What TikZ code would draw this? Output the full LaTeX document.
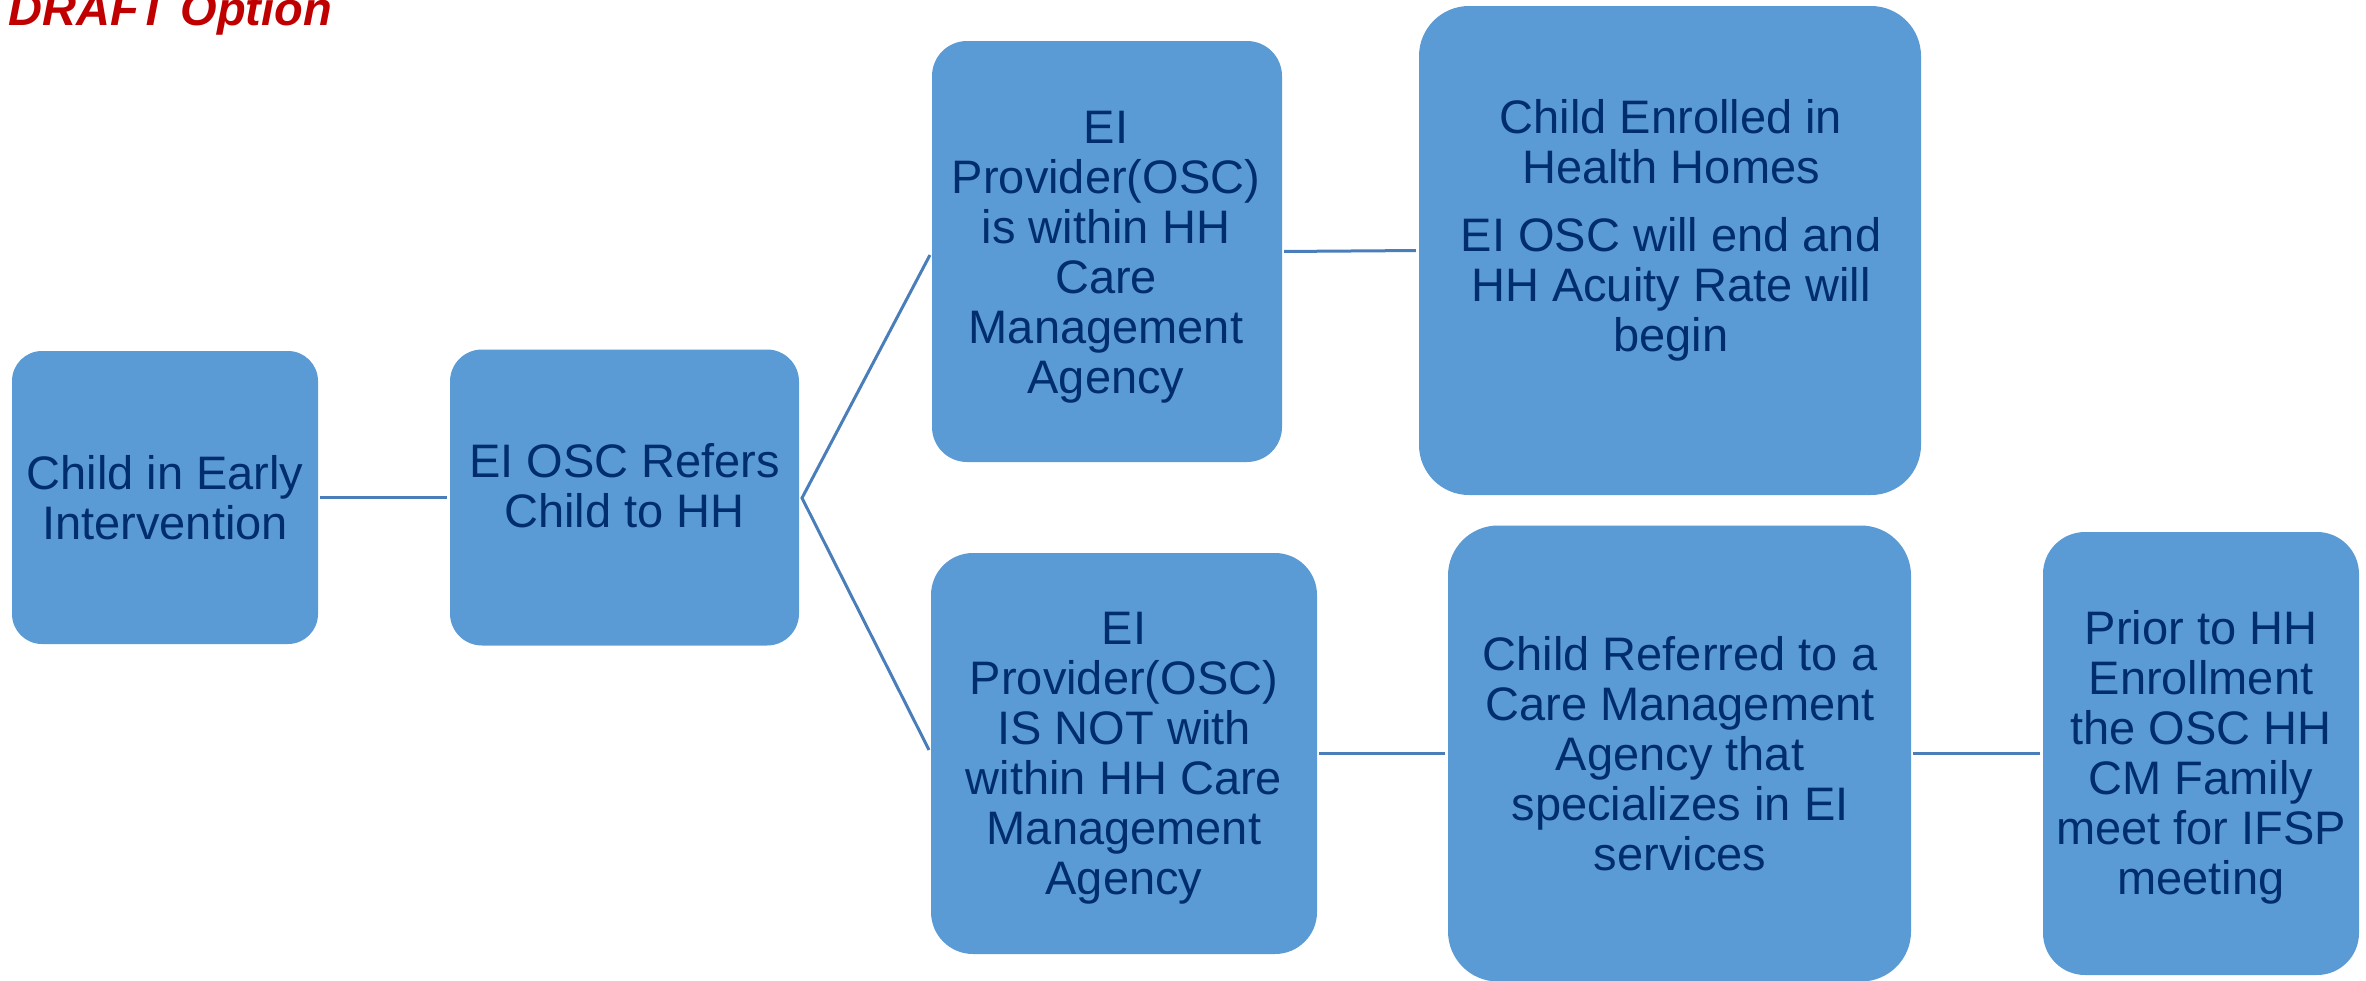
\documentclass[tikz,border=0pt]{standalone}
\usepackage{fontspec}
\setmainfont{Liberation Sans}
\definecolor{boxfill}{HTML}{5B9BD5}
\definecolor{boxtext}{HTML}{002D6E}
\definecolor{linkcol}{HTML}{4A7EBB}
\definecolor{draftred}{HTML}{C00000}
\begin{document}
\begin{tikzpicture}[x=1pt,y=-1pt,
  box/.style={fill=boxfill,draw=none,inner sep=0pt,minimum width=#1},
  boxtxt/.style={text=boxtext,align=center,inner sep=0pt,font=\fontsize{47}{50}\selectfont},
  link/.style={draw=linkcol,line width=3pt,shorten <=2pt,shorten >=3pt}]
\useasboundingbox (0,0) rectangle (2366,980);
% title
\node[anchor=base west,inner sep=0pt,text=draftred,font=\fontsize{47}{50}\selectfont\bfseries\itshape] (title) at (8,25) {DRAFT Option};
% boxes
\node[box=306pt,minimum height=293pt,rounded corners=30pt] (A) at (165,497.5) {};
\node[box=349pt,minimum height=296pt,rounded corners=32pt] (B) at (624.5,497.5) {};
\node[box=350pt,minimum height=421pt,rounded corners=35pt] (C) at (1107,251.5) {};
\node[box=502pt,minimum height=489pt,rounded corners=50pt] (D) at (1670,250.5) {};
\node[box=386pt,minimum height=401pt,rounded corners=42pt] (E) at (1124,753.5) {};
\node[box=463pt,minimum height=456pt,rounded corners=50pt] (F) at (1679.5,753.5) {};
\node[box=316pt,minimum height=443pt,rounded corners=42pt] (G) at (2201,753.5) {};
% texts
\node[boxtxt] (At) at (165,504) {\strut Child in Early\\\strut Intervention};
\node[boxtxt] (Bt) at (624.5,492) {\strut EI OSC Refers\\\strut Child to HH};
\node[boxtxt] (Ct) at (1106,258.5) {\strut EI\\\strut Provider(OSC)\\\strut is within HH\\\strut Care\\\strut Management\\\strut Agency};
\node[boxtxt] (Dt) at (1671,232.5) {\strut Child Enrolled in\\\strut Health Homes\\[18pt]\strut EI OSC will end and\\\strut HH Acuity Rate will\\\strut begin};
\node[boxtxt] (Et) at (1124,759.5) {\strut EI\\\strut Provider(OSC)\\\strut IS NOT with\\\strut within HH Care\\\strut Management\\\strut Agency};
\node[boxtxt] (Ft) at (1680,760.5) {\strut Child Referred to a\\\strut Care Management\\\strut Agency that\\\strut specializes in EI\\\strut services};
\node[boxtxt] (Gt) at (2201,759.5) {\strut Prior to HH\\\strut Enrollment\\\strut the OSC HH\\\strut CM Family\\\strut meet for IFSP\\\strut meeting};
% connectors
\coordinate (fork) at (802,498);
\draw[link] (A.east) -- (B.west);
\draw[link,shorten <=4pt,shorten >=4pt,line join=miter] (C.west) -- (fork) -- (E.west);
\draw[link] (C.east) -- (D.west);
\draw[link] (E.east) -- (F.west);
\draw[link] (F.east) -- (G.west);
\end{tikzpicture}
\end{document}
